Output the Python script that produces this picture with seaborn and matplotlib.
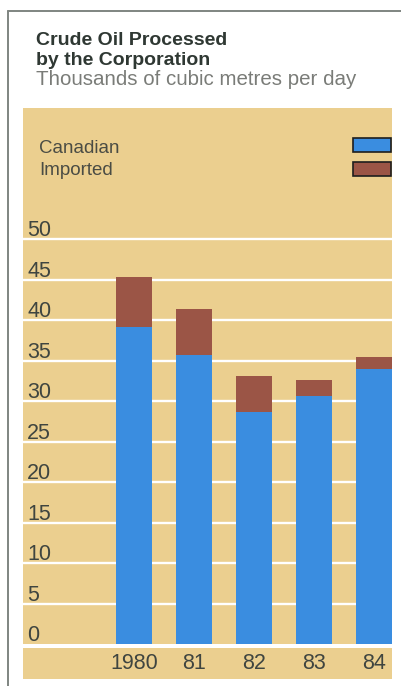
import matplotlib
matplotlib.use("Agg")
import matplotlib.pyplot as plt
from matplotlib.lines import Line2D
from matplotlib.patches import Rectangle
import matplotlib.transforms as mtransforms
import seaborn as sns
import pandas as pd

# Crude oil processed, thousands of cubic metres per day
years = ["1980", "81", "82", "83", "84"]
canadian = [39.1, 35.7, 28.6, 30.6, 34.0]
imported = [6.2, 5.7, 4.5, 2.0, 1.4]
y_ticks = [0, 5, 10, 15, 20, 25, 30, 35, 40, 45, 50]

totals = [c + i for c, i in zip(canadian, imported)]
df = pd.DataFrame({"year": years, "canadian": canadian, "total": totals})

TAN = "#ebcf8f"
BLUE = "#3a8de0"
BROWN = "#9b5546"
TEXT = "#3f4540"

sns.set_style("white")
plt.rcParams["font.family"] = ["Liberation Sans", "DejaVu Sans"]

W, H = 401, 686
fig = plt.figure(figsize=(W / 100, H / 100), dpi=100)


def fx(x):
    return x / W


def fy(y):
    return 1 - y / H


# main plotting panel (pixel box: x 23..392, y 108..644)
ax = fig.add_axes([fx(23), fy(644), fx(392) - fx(23), fy(108) - fy(644)])
ax.set_facecolor(TAN)

sns.barplot(data=df, x="year", y="total", color=BROWN, width=0.6,
            saturation=1, linewidth=0, ax=ax, zorder=3)
sns.barplot(data=df, x="year", y="canadian", color=BLUE, width=0.6,
            saturation=1, linewidth=0, ax=ax, zorder=4)

ax.set_xlim(-1.85, 4.3)
ax.set_ylim(0, 66.2)
ax.set_yticks(y_ticks[1:])
ax.yaxis.grid(True, color="white", linewidth=1.7, zorder=1)
ax.set_axisbelow(True)
ax.tick_params(left=False, bottom=False, labelleft=False, labelbottom=False)
ax.set_xlabel("")
ax.set_ylabel("")
for s in ax.spines.values():
    s.set_visible(False)

# value scale written inside the panel, just above each grid line
lab_tr = mtransforms.blended_transform_factory(ax.transAxes, ax.transData)
lab_tr = mtransforms.offset_copy(lab_tr, fig=fig, x=0, y=3, units="dots")
for v in y_ticks:
    ax.text(fx(4) / (fx(392) - fx(23)), v, str(v), transform=lab_tr,
            ha="left", va="baseline", fontsize=15.5, color=TEXT, zorder=5)

# year strip under the panel
ax2 = fig.add_axes([fx(23), fy(679), fx(392) - fx(23), fy(648) - fy(679)])
ax2.set_facecolor(TAN)
ax2.set_xlim(ax.get_xlim())
ax2.set_ylim(0, 1)
ax2.set_xticks([])
ax2.set_yticks([])
for s in ax2.spines.values():
    s.set_visible(False)
for i, yr in enumerate(years):
    ax2.text(i, 0.33, yr, ha="center", va="baseline", fontsize=15.5,
             color=TEXT)

# titles
fig.text(fx(36), fy(45), "Crude Oil Processed", fontsize=14,
         fontweight="bold", color="#2f3833", va="baseline")
fig.text(fx(36), fy(65), "by the Corporation", fontsize=14,
         fontweight="bold", color="#2f3833", va="baseline")
fig.text(fx(36), fy(85), "Thousands of cubic metres per day",
         fontsize=14.8, color="#7a7c78", va="baseline")

# legend
fig.text(fx(39), fy(153), "Canadian", fontsize=13.5, color="#4a4c44",
         va="baseline")
fig.text(fx(39), fy(175), "Imported", fontsize=13.5, color="#4a4c44",
         va="baseline")
for top, col in [(138, BLUE), (162, BROWN)]:
    fig.add_artist(Rectangle((fx(353), fy(top + 14)), fx(38), 14 / H,
                             facecolor=col, edgecolor="#1e1e1e",
                             linewidth=1.2, transform=fig.transFigure))

# page frame
fig.add_artist(Line2D([fx(8), fx(8)], [fy(11), 0], color="#7f8581",
                      linewidth=1.4, transform=fig.transFigure))
fig.add_artist(Line2D([fx(8), 1], [fy(11), fy(11)], color="#7f8581",
                      linewidth=1.4, transform=fig.transFigure))

fig.savefig("out.png", dpi=100, facecolor="white")
